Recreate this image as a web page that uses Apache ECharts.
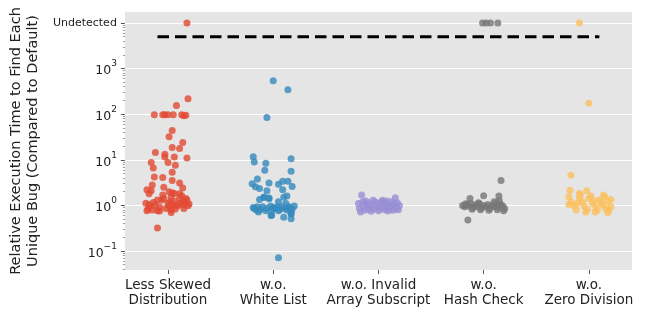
<!DOCTYPE html>
<html>
<head>
<meta charset="utf-8">
<script src="https://cdn.jsdelivr.net/npm/echarts@6/dist/echarts.min.js"></script>
<style>html,body{margin:0;padding:0;background:#fff}#c{width:645px;height:310px}</style>
</head>
<body>
<div id="c"></div>
<script>
const categories = ['Less Skewed\nDistribution', 'w.o.\nWhite List', 'w.o. Invalid\nArray Subscript', 'w.o.\nHash Check', 'w.o.\nZero Division'];
const yTickValues = [0.1, 1, 10, 100, 1000, 10000];
const yTickLabels = ['{b|10}{s|\u22121}', '{b|10}{s|0}', '{b|10}{s|1}', '{b|10}{s|2}', '{b|10}{s|3}', '{u|Undetected}'];
const undetectedThreshold = 5000;
const colors = ['#E24A33', '#348ABD', '#988ED5', '#777777', '#FBC15E'];

// [jitter, relative time] pairs per configuration
const lessSkewed = [
  [0.18,10000],[0.19,219],[0.08,156],
  [-0.13,97],[-0.05,97],[-0.03,97],[0.0,97],[0.05,97],[0.13,97],[0.15,93],[0.17,95],
  [0.04,44],[0.01,32],[0.14,24],[-0.12,14.5],[0.04,18.6],[0.11,17.7],[-0.03,13.3],[-0.03,11.5],[0.06,11.5],[0.18,11],
  [-0.16,8.7],[0.0,8.7],[-0.14,6.6],[0.07,7.6],[0.04,5.3],[-0.13,4.2],[-0.05,4.1],[0.04,3.5],[0.11,3.1],[-0.15,2.8],
  [-0.04,2.5],[0.14,2.4],[-0.2,2.2],[-0.16,2.1],[0.01,2.0],[0.04,1.9],[0.11,1.8],[-0.18,1.8],
  [-0.21,1.11],[-0.18,1.05],[-0.14,1.16],[-0.12,1.02],[-0.06,1.31],[-0.04,1.42],[0.0,1.11],[0.02,1.2],[0.04,1.05],
  [0.06,1.24],[0.09,0.98],[0.12,1.11],[0.15,1.2],[0.18,1.31],[0.2,1.07],[-0.19,0.83],[-0.15,0.79],[-0.08,0.75],
  [-0.02,0.86],[0.03,0.79],[0.07,0.83],[0.15,0.86],[0.19,0.98],[-0.05,1.68],[0.11,1.42],[0.13,1.62],[0.17,1.42],
  [-0.1,1.31],[0.03,1.54],[0.06,1.83],[-0.2,0.76],[-0.1,0.76],[0.03,0.70],[-0.1,0.32],
  [-0.17,0.95],[-0.08,0.92],[0.01,0.95],[0.08,1.0],[0.14,1.05]
];
const whiteList = [
  [0.0,540],[0.14,345],[-0.06,85],[-0.19,11.6],[-0.18,8.9],[-0.07,8.4],[0.17,10.5],[-0.08,5.9],[0.17,5.6],
  [-0.15,3.8],[-0.2,3.0],[-0.17,2.55],[-0.13,2.35],[-0.04,3.1],[0.05,2.9],[0.09,3.4],[0.14,3.4],[0.09,2.2],
  [0.18,2.6],[-0.06,2.1],[0.13,1.6],[-0.13,1.35],[-0.09,1.5],[-0.04,1.45],[-0.02,0.6],[0.1,0.55],[0.17,0.51],
  [0.17,0.67],[0.05,0.071],
  [-0.18,0.86],[-0.16,0.79],[-0.14,0.72],[-0.1,0.93],[-0.06,0.86],[-0.025,0.97],[-0.01,0.79],[0.02,0.86],
  [0.05,0.76],[0.085,0.93],[0.12,0.86],[0.15,0.93],[0.18,0.82],[0.2,0.97],[-0.15,0.93],[-0.07,0.76],
  [-0.015,0.61],[0.17,0.65],[0.12,1.1],[-0.085,1.5],[-0.04,1.4],[0.05,1.2],[0.1,1.5],[0.04,0.93],[0.07,0.82],
  [0.13,0.79],[-0.12,0.82],[0.0,0.9],[0.16,0.85],[-0.19,0.9]
];
const invalidArray = [
  [-0.16,1.68],[0.16,1.47],[-0.05,1.3],[0.04,1.3],
  [-0.19,1.1],[-0.18,0.85],[-0.17,0.72],[-0.15,1.2],[-0.14,0.95],[-0.13,0.78],[-0.11,1.05],[-0.1,0.83],
  [-0.09,1.15],[-0.08,0.9],[-0.07,0.74],[-0.05,1.02],[-0.04,0.82],[-0.03,1.18],[-0.01,0.92],[0.0,0.76],
  [0.01,1.1],[0.02,0.86],[0.03,1.22],[0.05,0.98],[0.06,0.8],[0.07,1.12],[0.08,0.9],[0.09,0.75],
  [0.1,1.05],[0.11,0.84],[0.12,1.2],[0.13,0.96],[0.14,0.78],[0.15,1.08],[0.17,0.88],[0.18,1.15],
  [0.19,0.8],[0.2,1.0],[-0.12,1.25],[0.08,1.25]
];
const hashCheck = [
  [-0.01,10000],[0.025,10000],[0.065,10000],[0.135,10000],
  [0.165,3.5],[0.0,1.62],[-0.13,1.42],[0.145,1.6],[-0.15,0.48],
  [-0.2,1.0],[-0.18,0.93],[-0.16,1.05],[-0.14,0.97],[-0.12,1.1],[-0.1,0.9],[-0.08,1.02],[-0.06,0.95],
  [-0.04,1.08],[-0.02,0.88],[0.0,1.0],[0.02,0.93],[0.04,1.05],[0.06,0.86],[0.08,1.0],[0.1,0.95],
  [0.12,1.15],[0.14,0.9],[0.16,1.05],[0.18,0.98],[0.2,0.85],[-0.11,0.82],[-0.03,0.8],[0.05,0.78],
  [0.13,0.8],[0.19,0.76],[-0.05,1.15],[0.1,1.2],[0.15,1.25],[-0.17,1.08]
];
const zeroDivision = [
  [-0.09,10000],[0.0,173],[-0.17,4.6],[-0.18,2.16],[-0.09,1.83],[-0.02,2.1],[0.14,1.68],[0.21,1.35],
  [-0.19,1.54],[-0.17,1.2],[-0.14,1.0],[-0.12,0.79],[-0.09,1.42],[-0.06,1.2],[-0.045,0.97],[-0.015,0.82],
  [0.0,1.42],[0.035,1.1],[0.065,0.93],[0.08,0.79],[0.1,1.31],[0.13,1.02],[0.16,0.86],[0.18,1.2],
  [0.19,0.79],[0.21,0.93],[-0.08,1.68],[0.02,1.6],[0.15,1.54],[0.06,0.72],[-0.03,0.72],[0.18,0.69],
  [-0.19,1.05],[-0.11,1.1],[0.05,1.25],[0.12,1.15]
];
const groups = [lessSkewed, whiteList, invalidArray, hashCheck, zeroDivision];

const yMin = 0.0383, yMax = 17420;
const xMin = -0.41, xMax = 4.41;
const minorTicks = [];
for (let e = -2; e <= 4; e++) for (let m = 2; m <= 9; m++) { const v = m * Math.pow(10, e); if (v > yMin && v < yMax) minorTicks.push(v); }

const series = groups.map((g, i) => ({
  type: 'scatter',
  data: g.map(p => [i + p[0], p[1]]),
  symbolSize: 7,
  itemStyle: { color: colors[i], opacity: 0.8 },
  z: 3
}));
series.push({
  type: 'line',
  data: [[-0.1, undetectedThreshold], [4.1, undetectedThreshold]],
  symbol: 'none',
  lineStyle: { color: '#000', width: 3, type: [11.5, 6] },
  z: 4
});

const chart = echarts.init(document.getElementById('c'), null, { renderer: 'canvas' });
chart.setOption({
  animation: false,
  textStyle: { fontFamily: 'DejaVu Sans' },
  grid: { left: 122, right: 13, top: 12, bottom: 40, show: true, backgroundColor: '#E5E5E5', borderWidth: 0 },
  xAxis: {
    type: 'value', min: xMin, max: xMax,
    axisLine: { show: false, onZero: false },
    splitLine: { show: false },
    axisTick: { show: true, customValues: [0, 1, 2, 3, 4], length: 4, lineStyle: { color: '#555' } },
    axisLabel: { customValues: [0, 1, 2, 3, 4], formatter: v => categories[Math.round(v)], fontSize: 13.5, color: '#222', lineHeight: 15, margin: 8, fontFamily: 'DejaVu Sans' }
  },
  yAxis: [{
    type: 'log', logBase: 10, min: yMin, max: yMax,
    name: 'Relative Execution Time to Find Each\nUnique Bug (Compared to Default)',
    nameLocation: 'middle', nameRotate: 90, nameGap: 78,
    nameTextStyle: { fontSize: 14.5, color: '#222', lineHeight: 17, fontFamily: 'DejaVu Sans' },
    axisLine: { show: false, onZero: false },
    axisTick: { show: true, customValues: yTickValues, length: 4, lineStyle: { color: '#555' } },
    axisLabel: {
      customValues: yTickValues,
      formatter: v => { const k = yTickValues.findIndex(t => Math.abs(Math.log10(t) - Math.log10(v)) < 1e-6); return k >= 0 ? yTickLabels[k] : ''; },
      margin: 8, color: '#222', fontFamily: 'DejaVu Sans',
      rich: {
        b: { fontSize: 12.5, color: '#222', lineHeight: 18, verticalAlign: 'bottom', fontFamily: 'DejaVu Sans' },
        s: { fontSize: 9, color: '#222', lineHeight: 18, verticalAlign: 'top', fontFamily: 'DejaVu Sans' },
        u: { fontSize: 11, color: '#222', fontFamily: 'DejaVu Sans' }
      }
    },
    splitLine: { show: true, lineStyle: { color: '#fff', width: 1.2 } }
  }, {
    type: 'log', logBase: 10, min: yMin, max: yMax, position: 'left',
    axisLine: { show: false, onZero: false },
    axisTick: { show: true, customValues: minorTicks, length: 2, lineStyle: { color: '#999' } },
    axisLabel: { show: false },
    splitLine: { show: false }
  }],
  series: series
});
</script>
</body>
</html>
